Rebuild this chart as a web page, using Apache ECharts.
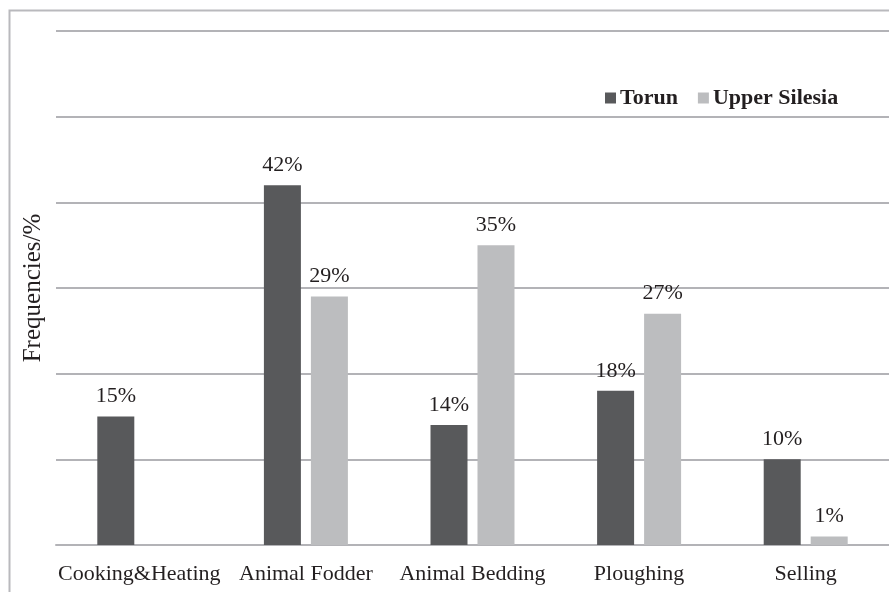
<!DOCTYPE html>
<html><head><meta charset="utf-8">
<script src="https://cdn.jsdelivr.net/npm/echarts@6/dist/echarts.min.js"></script>
<style>html,body{margin:0;padding:0;background:#fff}#c{width:889px;height:592px}</style>
</head><body><div id="c"></div>
<script>
const categories = ['Cooking&Heating','Animal Fodder','Animal Bedding','Ploughing','Selling'];
const torun = [15, 42, 14, 18, 10];
const upperSilesia = [null, 29, 35, 27, 1];
const seriesNames = ['Torun','Upper Silesia'];

const chart = echarts.init(document.getElementById('c'));
const font = 'Liberation Serif, Times New Roman, serif';
chart.setOption({
  animation: false,
  backgroundColor: '#fff',
  graphic: [{type:'rect', shape:{x:9.5,y:10.5,width:900,height:620}, style:{fill:'none', stroke:'#b9b9bd', lineWidth:2}, silent:true}],
  grid: {left:56, right:0, top:31, bottom:47, containLabel:false},
  legend: {
    data: seriesNames, left: 600, top: 82, icon:'rect', itemWidth:11, itemHeight:11, itemGap:20,
    textStyle:{fontFamily:font, fontWeight:'bold', fontSize:22, color:'#231f20', padding:[0,0,0,-1]}
  },
  xAxis: {
    type:'category', data:categories,
    axisLine:{show:true, lineStyle:{color:'#b3b3b7', width:2}},
    axisTick:{show:false},
    axisLabel:{interval:0, fontFamily:font, fontSize:22, color:'#231f20', margin:18}
  },
  yAxis: {
    type:'value', min:0, max:60, interval:10,
    name:'Frequencies/%', nameLocation:'middle', nameGap:10,
    nameTextStyle:{fontFamily:font, fontSize:25, color:'#231f20'},
    axisLabel:{show:false}, axisLine:{show:false}, axisTick:{show:false},
    splitLine:{lineStyle:{color:'#b3b3b7', width:2}}
  },
  series: [
    {name:seriesNames[0], type:'bar', data:torun, barWidth:37, barGap:'27%',
     itemStyle:{color:'#58595b'},
     label:{show:true, position:'top', distance:9, formatter:'{c}%', fontFamily:font, fontSize:22, color:'#231f20'}},
    {name:seriesNames[1], type:'bar', data:upperSilesia, barWidth:37,
     itemStyle:{color:'#bcbdbf'},
     label:{show:true, position:'top', distance:9, formatter:'{c}%', fontFamily:font, fontSize:22, color:'#231f20'}}
  ]
});
</script></body></html>
